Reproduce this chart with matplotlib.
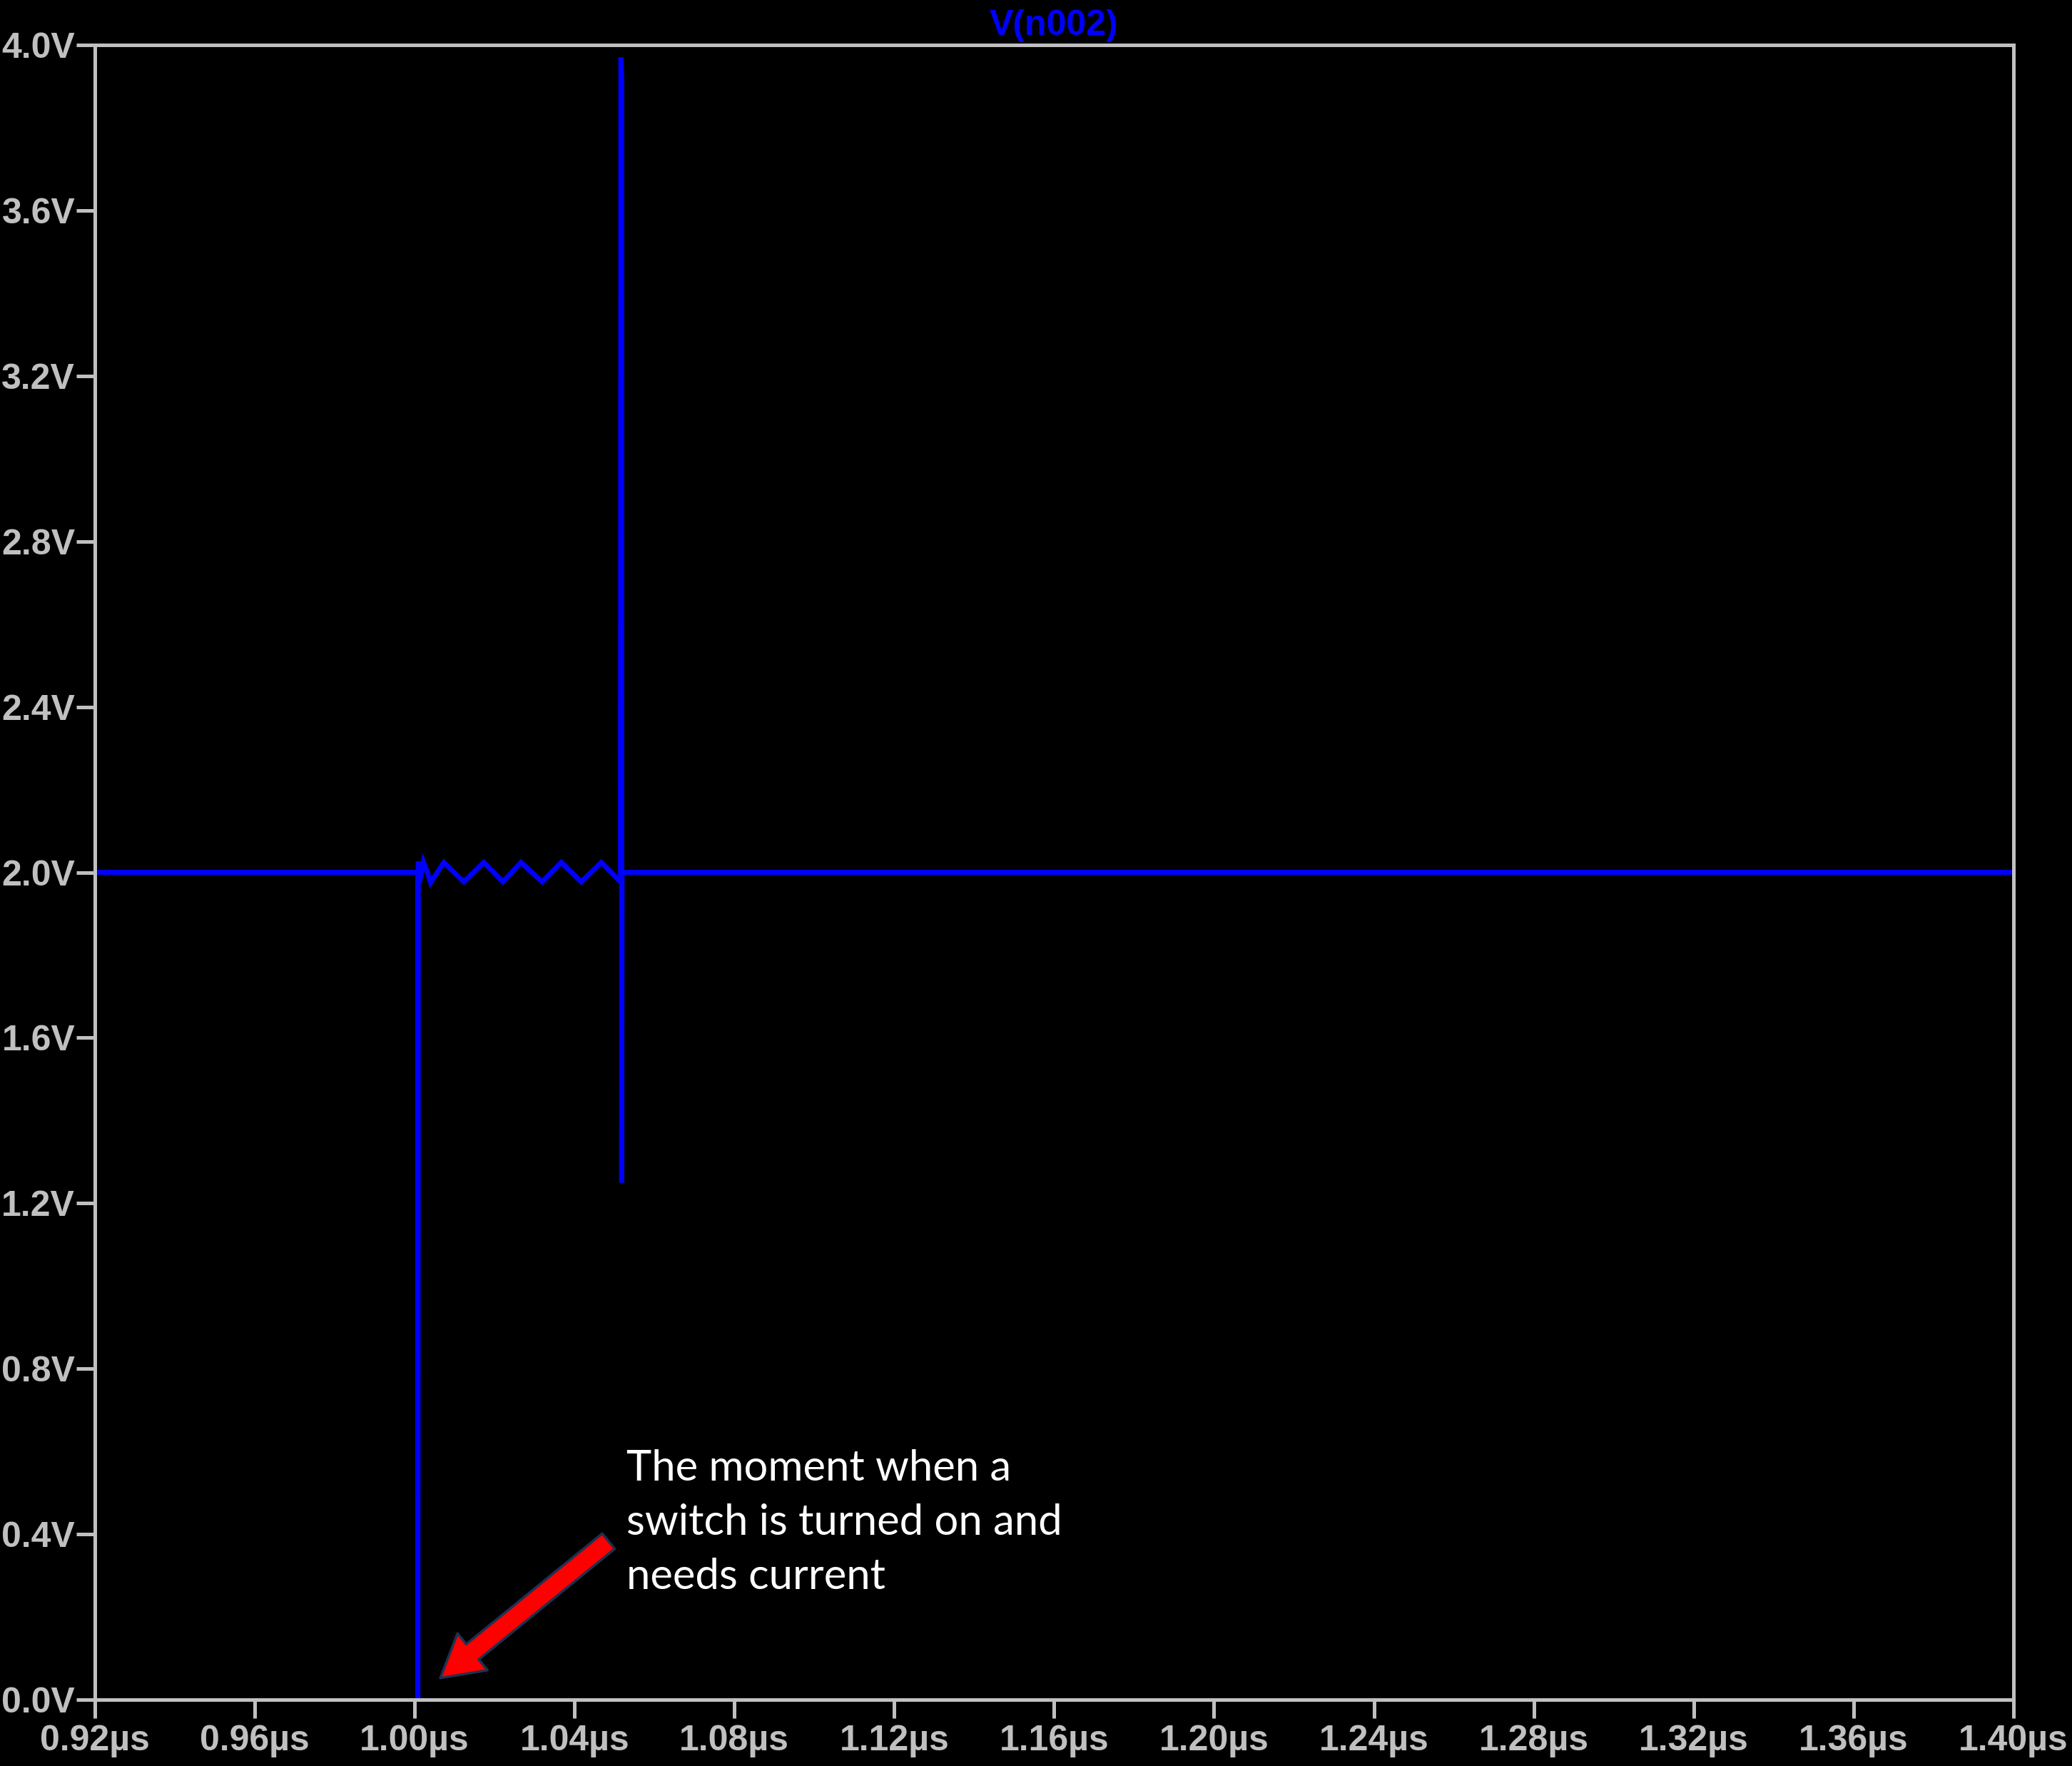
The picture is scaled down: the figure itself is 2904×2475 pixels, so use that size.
import matplotlib
matplotlib.use('Agg')
import matplotlib.pyplot as plt
from matplotlib.patches import FancyArrowPatch

### waveform (time in us, voltage in V)
t_us = [0.92, 1.0008, 1.0008, 1.0009, 1.0012, 1.0022, 1.0030, 1.0040,
        1.0073, 1.0123, 1.0173, 1.0221, 1.0266, 1.0319, 1.0367, 1.0417,
        1.0467, 1.0515, 1.0516, 1.0518, 1.0518, 1.0519, 1.40]
v_n002 = [2.0, 2.0, 0.0, 2.026, 1.975, 2.025, 2.005, 1.975,
          2.024, 1.977, 2.024, 1.977, 2.024, 1.977, 2.024, 1.977,
          2.024, 1.977, 3.97, 3.92, 1.25, 2.0, 2.0]

x_ticks = [0.92, 0.96, 1.00, 1.04, 1.08, 1.12, 1.16, 1.20, 1.24, 1.28, 1.32, 1.36, 1.40]
x_labels = ['0.92µs', '0.96µs', '1.00µs', '1.04µs', '1.08µs', '1.12µs', '1.16µs',
            '1.20µs', '1.24µs', '1.28µs', '1.32µs', '1.36µs', '1.40µs']
y_ticks = [0.0, 0.4, 0.8, 1.2, 1.6, 2.0, 2.4, 2.8, 3.2, 3.6, 4.0]
y_labels = ['0.0V', '0.4V', '0.8V', '1.2V', '1.6V', '2.0V', '2.4V', '2.8V', '3.2V', '3.6V', '4.0V']

note = 'The moment when a\nswitch is turned on and\nneeds current'
arrow_tail = (1.0485, 0.383)
arrow_tip = (1.0064, 0.052)

grey = '#c0c0c0'
blue = '#0000ff'

fig = plt.figure(figsize=(29.04, 24.75), dpi=100, facecolor='black')
ax = fig.add_axes([0.0458, 0.0376, 0.9259, 0.9369])
ax.set_facecolor('black')

ax.plot(t_us, v_n002, color=blue, linewidth=5, solid_joinstyle='miter')

ax.set_xlim(0.92, 1.40)
ax.set_ylim(0.0, 4.0)
ax.set_xticks(x_ticks)
ax.set_xticklabels(x_labels)
ax.set_yticks(y_ticks)
ax.set_yticklabels(y_labels)

for s in ax.spines.values():
    s.set_color(grey)
    s.set_linewidth(3.6)

ax.tick_params(axis='both', direction='out', length=19, width=3.6, color=grey,
               labelcolor=grey, labelsize=36)
ax.tick_params(axis='y', pad=1)
ax.tick_params(axis='x', pad=6)
for lbl in ax.get_xticklabels() + ax.get_yticklabels():
    lbl.set_fontfamily('Liberation Sans')
    lbl.set_fontweight('bold')

ax.set_title('V(n002)', color=blue, fontsize=36, fontweight='bold',
             fontfamily='Liberation Sans', pad=10)

### annotation
ax.text(1.0530, 0.605, note, color='white', fontsize=43, fontfamily='Lato',
        va='top', ha='left', linespacing=1.5)
arr = FancyArrowPatch(arrow_tail, arrow_tip,
                      arrowstyle='simple,head_length=42,head_width=48,tail_width=20',
                      mutation_scale=1, facecolor='#ff0000', edgecolor='#1f3050',
                      linewidth=2.5, shrinkA=0, shrinkB=0, zorder=5)
ax.add_patch(arr)

plt.savefig('out.png', dpi=100, facecolor='black')
